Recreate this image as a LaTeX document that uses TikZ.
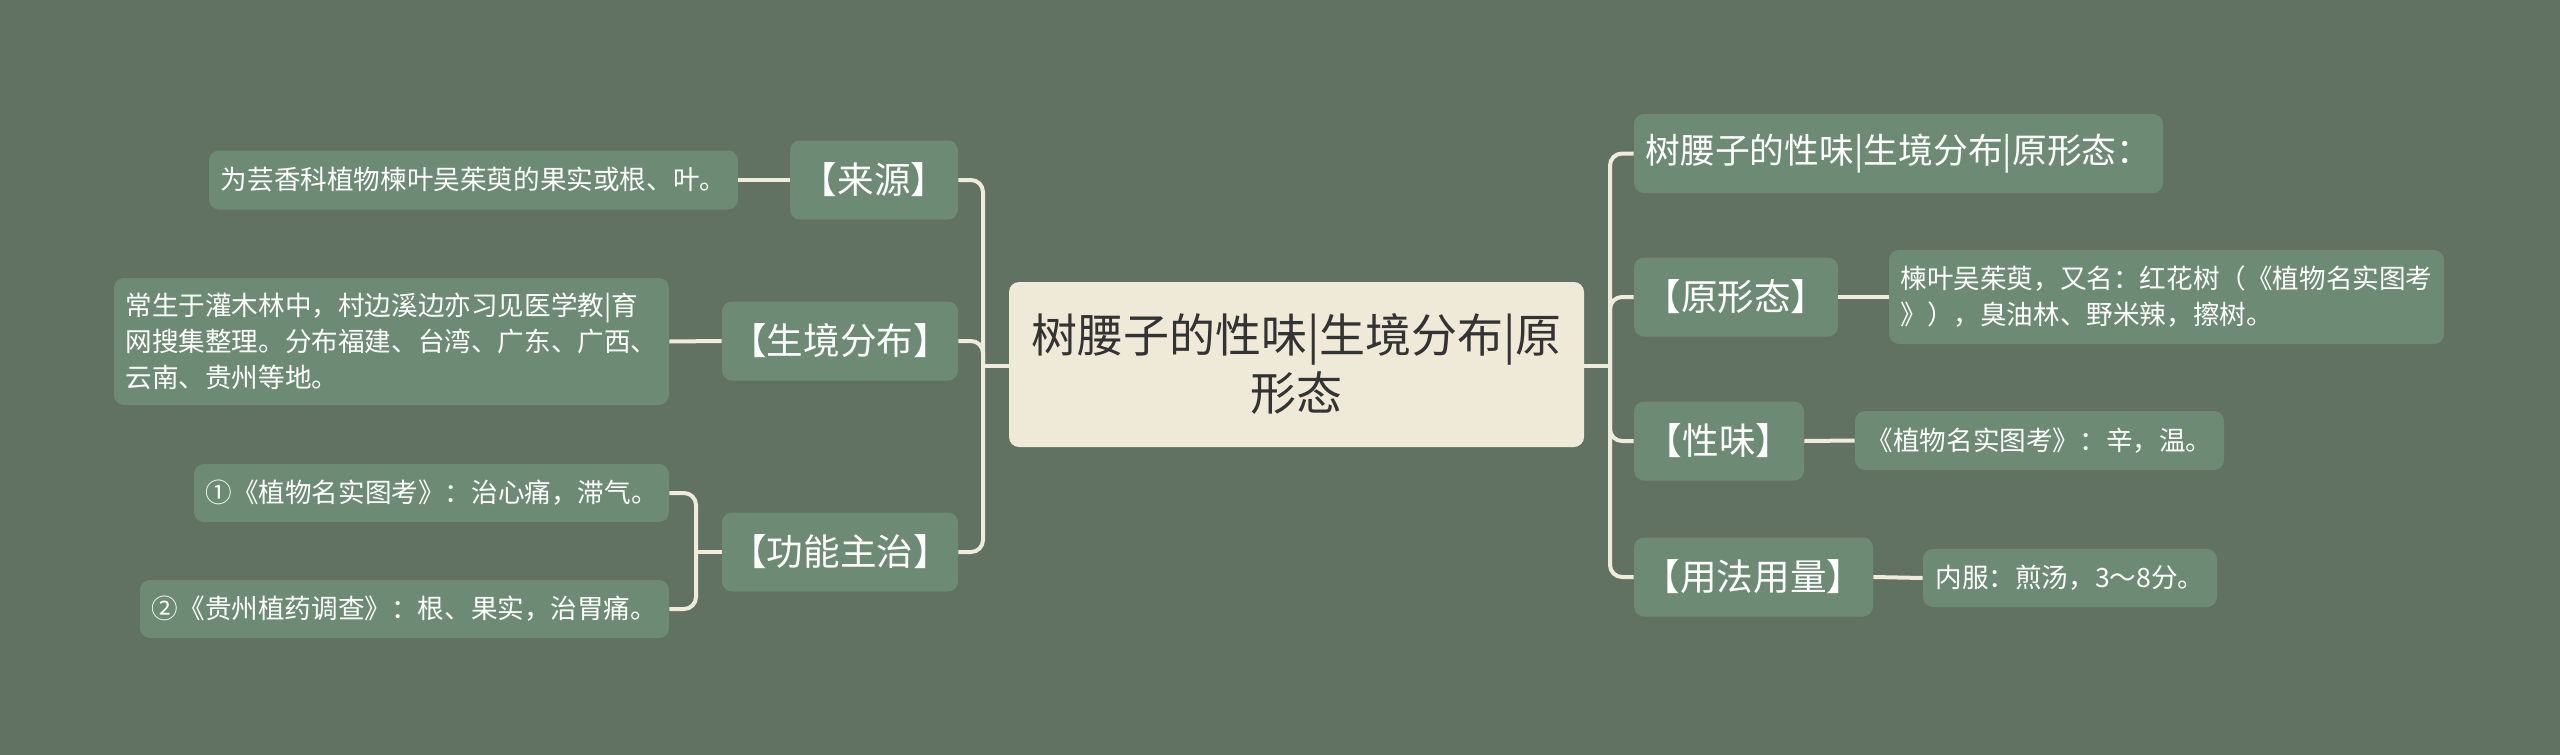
\documentclass[tikz,border=0pt]{standalone}
\usepackage{fontspec}
\setmainfont{Noto Sans CJK SC}
\definecolor{bg}{RGB}{97,114,99}
\definecolor{nodegreen}{RGB}{109,139,116}
\definecolor{topicfill}{RGB}{239,234,216}
\definecolor{topictext}{RGB}{51,51,51}
\definecolor{linecol}{RGB}{240,235,218}

\begin{document}
\begin{tikzpicture}[x=0.5pt,y=-0.5pt]
	% `branch' is used for the first level, `leaf' for the text boxes.
	\tikzstyle{topic} = [fill=topicfill,text=topictext,rounded corners=5pt,align=center,inner sep=0pt,font=\fontsize{23}{29}\selectfont]
	\tikzstyle{branch} = [fill=nodegreen,text=white,rounded corners=5pt,inner sep=0pt,minimum height=39.5pt,font=\fontsize{18.3}{22}\selectfont]
	\tikzstyle{leaf} = [fill=nodegreen,text=white,rounded corners=5pt,align=left,inner sep=0pt,font=\fontsize{13.3}{18}\selectfont]
	\tikzstyle{link} = [draw=linecol,line width=2pt,rounded corners=6pt]
	%
	\fill[bg] (0,0) rectangle (2560,755);
	\useasboundingbox (0,0) rectangle (2560,755);
	% Central topic.
	\node[topic,minimum width=287.5pt,minimum height=82.5pt] (topic) at (1296.5,364.5) {树腰子的性味|生境分布|原\\形态};
	% Left side.
	\node[branch,minimum width=84pt] (laiyuan) at (874,180) {【来源】};
	\node[leaf,minimum width=264.5pt,minimum height=29.5pt] (laiyuan-txt) at (473.5,180) {为芸香科植物楝叶吴茱萸的果实或根、叶。};
	\node[branch,minimum width=118pt] (shengjing) at (840,341) {【生境分布】};
	\node[leaf,minimum width=277.5pt,minimum height=63.5pt] (shengjing-txt) at (391.5,341.5) {常生于灌木林中，村边溪边亦习见医学教|育\\网搜集整理。分布福建、台湾、广东、广西、\\云南、贵州等地。};
	\node[branch,minimum width=118pt] (gongneng) at (840,552) {【功能主治】};
	\node[leaf,minimum width=237.5pt,minimum height=29pt] (gongneng-a) at (431.5,493) {①《植物名实图考》：治心痛，滞气。};
	\node[leaf,minimum width=264.5pt,minimum height=29pt] (gongneng-b) at (404.5,609) {②《贵州植药调查》：根、果实，治胃痛。};
	% Right side.
	\node[branch,minimum width=264.5pt,font=\fontsize{17.4}{22}\selectfont] (intro) at (1898.5,153.5) {树腰子的性味|生境分布|原形态：};
	\node[branch,minimum width=102pt] (yuanxing) at (1736,297) {【原形态】};
	\node[leaf,minimum width=277.5pt,minimum height=47pt] (yuanxing-txt) at (2166.5,297) {楝叶吴茱萸，又名：红花树（《植物名实图考\\》），臭油林、野米辣，擦树。};
	\node[branch,minimum width=85pt] (xingwei) at (1719,441) {【性味】};
	\node[leaf,minimum width=184.5pt,minimum height=29.5pt] (xingwei-txt) at (2039.5,440.5) {《植物名实图考》：辛，温。};
	\node[branch,minimum width=119.5pt] (yongfa) at (1753.5,577) {【用法用量】};
	\node[leaf,minimum width=147pt,minimum height=29pt] (yongfa-txt) at (2070,578) {内服：煎汤，3～8分。};
	% Trunks.
	\coordinate (ltrunk) at (983,366);
	\coordinate (rtrunk) at (1610,366);
	\coordinate (gtrunk) at (696,552);
	% Draw lines.
	\draw[link] (topic.west |- ltrunk) -- (ltrunk);
	\draw[link] (laiyuan.east) -| (ltrunk);
	\draw[link] (shengjing.east) -| (ltrunk);
	\draw[link] (gongneng.east) -| (ltrunk);
	\draw[link] (topic.east |- rtrunk) -- (rtrunk);
	\draw[link] (intro.west) -| (rtrunk);
	\draw[link] (yuanxing.west) -| (rtrunk);
	\draw[link] (xingwei.west) -| (rtrunk);
	\draw[link] (yongfa.west) -| (rtrunk);
	\draw[link] (laiyuan.west) -- (laiyuan-txt.east);
	\draw[link] (shengjing.west) -- (shengjing-txt.east);
	\draw[link] (gongneng.west) -- (gtrunk);
	\draw[link] (gongneng-a.east) -| (gtrunk);
	\draw[link] (gongneng-b.east) -| (gtrunk);
	\draw[link] (yuanxing.east) -- (yuanxing-txt.west);
	\draw[link] (xingwei.east) -- (xingwei-txt.west);
	\draw[link] (yongfa.east) -- (yongfa-txt.west);
\end{tikzpicture}
\end{document}
